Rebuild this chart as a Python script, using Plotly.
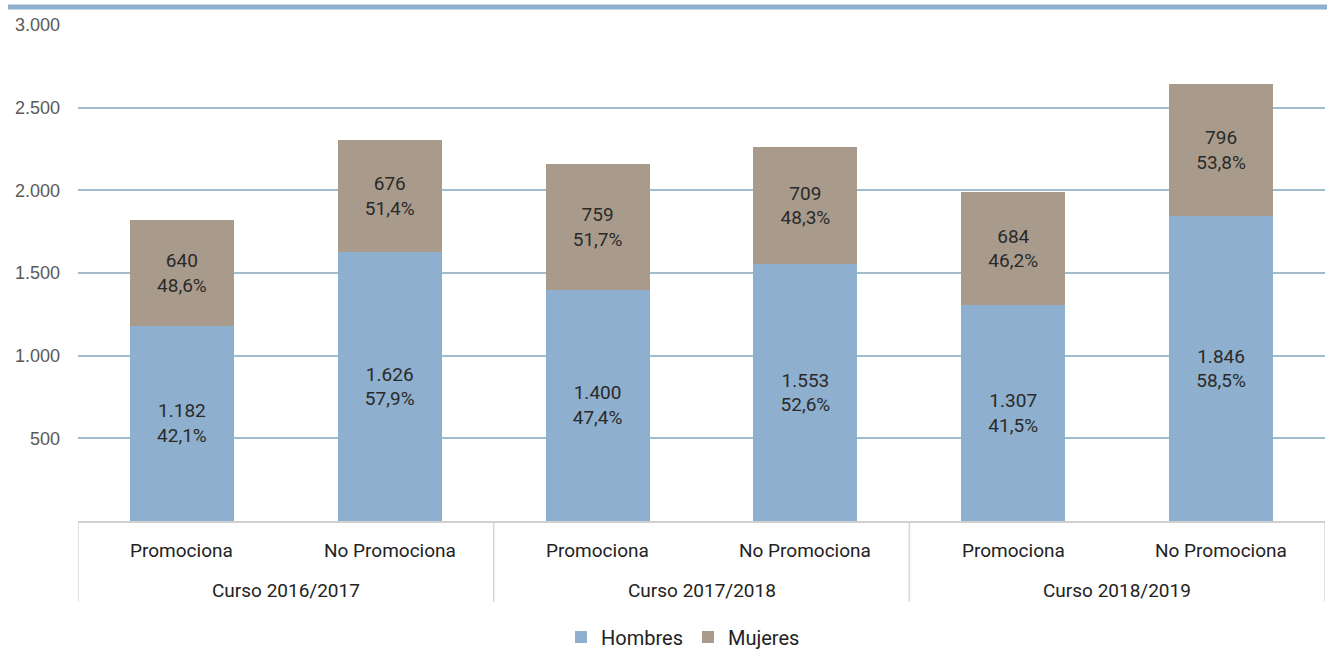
import plotly.graph_objects as go

cursos = ["Curso 2016/2017", "Curso 2017/2018", "Curso 2018/2019"]
categorias = ["Promociona", "No Promociona"] * 3
hombres = [1182, 1626, 1400, 1553, 1307, 1846]
mujeres = [640, 676, 759, 709, 684, 796]
pct_hombres = [42.1, 57.9, 47.4, 52.6, 41.5, 58.5]
pct_mujeres = [48.6, 51.4, 51.7, 48.3, 46.2, 53.8]
y_ticks = [500, 1000, 1500, 2000, 2500, 3000]

FONT = "Roboto, Liberation Sans, sans-serif"
C_H = "#8eafcd"
C_M = "#a99b8c"

x = list(range(len(categorias)))

fig = go.Figure()
for vals, pct, name, col in [(hombres, pct_hombres, "Hombres", C_H), (mujeres, pct_mujeres, "Mujeres", C_M)]:
    fig.add_trace(go.Bar(
        x=x, y=vals, name=name, marker_color=col, width=0.5,
        marker_line_width=0,
        customdata=pct,
        texttemplate="%{y:,}<br>%{customdata:.1f}%", textposition="inside",
        insidetextanchor="middle", textangle=0,
        insidetextfont=dict(family=FONT, size=19, color="#2a2a2a"),
    ))

plot_h = 650 - 25 - 129
plot_w = 1327 - 78 - 2
base = 25 + plot_h
annotations = []
shapes = []
lab_y1 = -(550 - base) / plot_h
lab_y2 = -(590 - base) / plot_h
for i, c in enumerate(categorias):
    annotations.append(dict(x=i, y=lab_y1, xref="x", yref="paper", text=c, showarrow=False,
                            font=dict(family=FONT, size=19, color="#222"), yanchor="middle"))
for g, c in enumerate(cursos):
    annotations.append(dict(x=2 * g + 0.5, y=lab_y2, xref="x", yref="paper", text=c, showarrow=False,
                            font=dict(family=FONT, size=19, color="#222"), yanchor="middle"))
sep_bottom = -(602 - base) / plot_h
for xs in [-0.5, 1.5, 3.5, 5.5]:
    shapes.append(dict(type="line", xref="x", yref="paper", x0=xs, x1=xs, y0=0, y1=sep_bottom,
                       line=dict(color="#d6d6d6", width=1.5)))
# top thick rule
shapes.append(dict(type="line", xref="paper", yref="paper", x0=-70 / plot_w, x1=(1327 - 78) / plot_w,
                   y0=1 + 18 / plot_h, y1=1 + 18 / plot_h, line=dict(color="#8eafcd", width=5)))

fig.update_layout(
    width=1327, height=650,
    margin=dict(l=78, r=2, t=25, b=129, autoexpand=False),
    barmode="stack",
    separators=",.",
    plot_bgcolor="white", paper_bgcolor="white",
    font=dict(family=FONT, color="#333"),
    showlegend=True,
    legend=dict(orientation="h", x=(683 - 78) / plot_w, xanchor="center",
                y=-(637 - base) / plot_h, yanchor="middle",
                font=dict(family=FONT, size=20, color="#222"), traceorder="normal",
                itemwidth=30),
    xaxis=dict(range=[-0.5, 5.5], showticklabels=False, showgrid=False, zeroline=False,
               showline=True, linecolor="#d0d0d0", linewidth=1.5, fixedrange=True,
               automargin=False),
    yaxis=dict(range=[0, 3000], tickvals=y_ticks, tickformat=",", showgrid=True,
               gridcolor="#a3bccd", gridwidth=1.5, zeroline=False, showline=False,
               tickfont=dict(family="Liberation Sans, Arial, sans-serif", size=18, color="#5a5a5a"),
               ticklabelstandoff=17, automargin=False),
    annotations=annotations,
    shapes=shapes,
)

fig.write_html("out.html", config={"displayModeBar": False},
               post_script="document.body.style.margin='0';document.body.style.overflow='hidden';")
